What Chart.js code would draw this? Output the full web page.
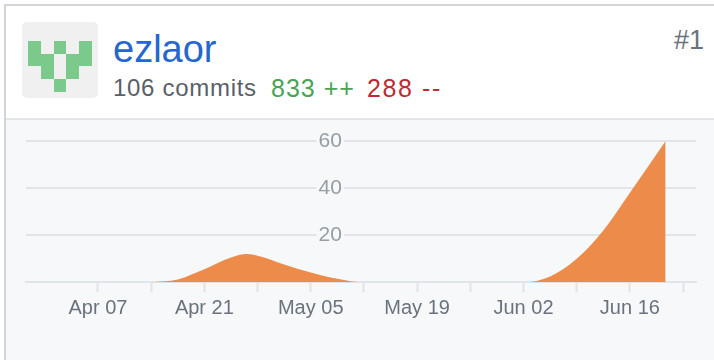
<!DOCTYPE html>
<html>
<head>
<meta charset="utf-8">
<script src="https://cdn.jsdelivr.net/npm/chart.js@4/dist/chart.umd.js"></script>
<style>
html,body{margin:0;padding:0;background:#fff;width:714px;height:360px;overflow:hidden}
body{position:relative;font-family:"Liberation Sans",sans-serif}
#top{position:absolute;left:4px;top:4px;right:0;height:2px;background:#d1d5da}
#leftb{position:absolute;left:4px;top:4px;bottom:0;width:2px;background:#d1d5da;z-index:3}
#div{position:absolute;left:6px;right:0;top:118px;height:2px;background:#e1e4e8}
#panel{position:absolute;left:6px;right:0;top:120px;bottom:0;background:#f6f8fa}
#avatar{position:absolute;left:22px;top:22px}
#name{position:absolute;left:113px;top:28px;font-size:38px;line-height:42px;color:#2566cf}
#stats{position:absolute;left:113px;top:73px;font-size:24px;line-height:30px;color:#586069;white-space:nowrap;letter-spacing:.7px}
#add{position:absolute;left:158px;top:0;color:#4aa356;font-size:25px;letter-spacing:1px}
#del{position:absolute;left:254px;top:0;color:#bd2c32;font-size:25px;letter-spacing:1.6px}
#rank{position:absolute;right:10px;top:24px;font-size:27px;line-height:32px;color:#6a737d}
#wrap{position:absolute;left:0;top:120px;width:714px;height:240px}
</style>
</head>
<body>
<div id="panel"></div><div id="top"></div><div id="leftb"></div><div id="div"></div>
<svg id="avatar" width="76" height="76" viewBox="0 0 76 76">
<rect width="76" height="76" rx="5" fill="#f0f0f0"/>
<g fill="#7bca8c">
<rect x="6" y="19" width="13" height="13"/><rect x="32" y="19" width="12" height="13"/><rect x="57" y="19" width="13" height="13"/>
<rect x="6" y="32" width="26" height="12"/><rect x="44" y="32" width="26" height="12"/>
<rect x="19" y="44" width="13" height="13"/><rect x="44" y="44" width="13" height="13"/>
<rect x="32" y="57" width="12" height="13"/>
</g></svg>
<div id="name">ezlaor</div>
<div id="stats">106 commits<span id="add">833 ++</span><span id="del">288 --</span></div>
<div id="rank">#1</div>
<div id="wrap"><canvas id="c"></canvas></div>
<script>
const tickDays = [0,7,14,21,28,35,42,49,56,63,70,77];
const tickLabels = ["Apr 07","","Apr 21","","May 05","","May 19","","Jun 02","","Jun 16",""];
const days = [7,10.5,14,17.5,19.6,21,24.5,28,31.5,35,56,59.5,63,66.5,70,74.7];
const commits = [0,1.2,5.5,10.5,12,11.3,7.6,4.2,1.5,0,0,2.5,10,22,38,60];
const fillColor = "#ed8c4a";

new Chart(document.getElementById("c"), {
  type: "line",
  data: { datasets: [{
    data: days.map((d,i)=>({x:d,y:commits[i]})),
    fill: "origin", backgroundColor: fillColor, borderWidth: 0, pointRadius: 0,
    cubicInterpolationMode: "monotone"
  }]},
  options: {
    responsive: true, maintainAspectRatio: false, animation: false,
    layout: { padding: { left: 26, right: 18, top: 21, bottom: 35.7 } },
    plugins: { legend: {display:false}, tooltip:{enabled:false} },
    scales: {
      x: {
        type: "linear", min: -9.47, max: 78.7,
        afterBuildTicks: s => { s.ticks = tickDays.map(v=>({value:v})); },
        border: {display:true, color:"#e1e4e8", width:2},
        grid: { drawOnChartArea:false, drawTicks:true, tickLength:10, tickColor:"#e1e4e8", tickWidth:2 },
        ticks: { autoSkip:false, maxRotation:0, padding:4, color:"#6a737d",
          font:{family:"Liberation Sans",size:20},
          callback: v => tickLabels[tickDays.indexOf(v)] }
      },
      y: {
        min: 0, max: 60, position: {x: 32.1},
        border:{display:false},
        grid:{ color:"#e1e4e8", lineWidth:2, drawTicks:false },
        ticks:{ stepSize:20, padding:0, color:"#959da5",
          font:{family:"Liberation Sans",size:21},
          showLabelBackdrop:true,
          backdropColor:"#f6f8fa", backdropPadding:2,
          callback: v => v===0 ? null : String(v) }
      }
    }
  }
});
</script>
</body>
</html>
